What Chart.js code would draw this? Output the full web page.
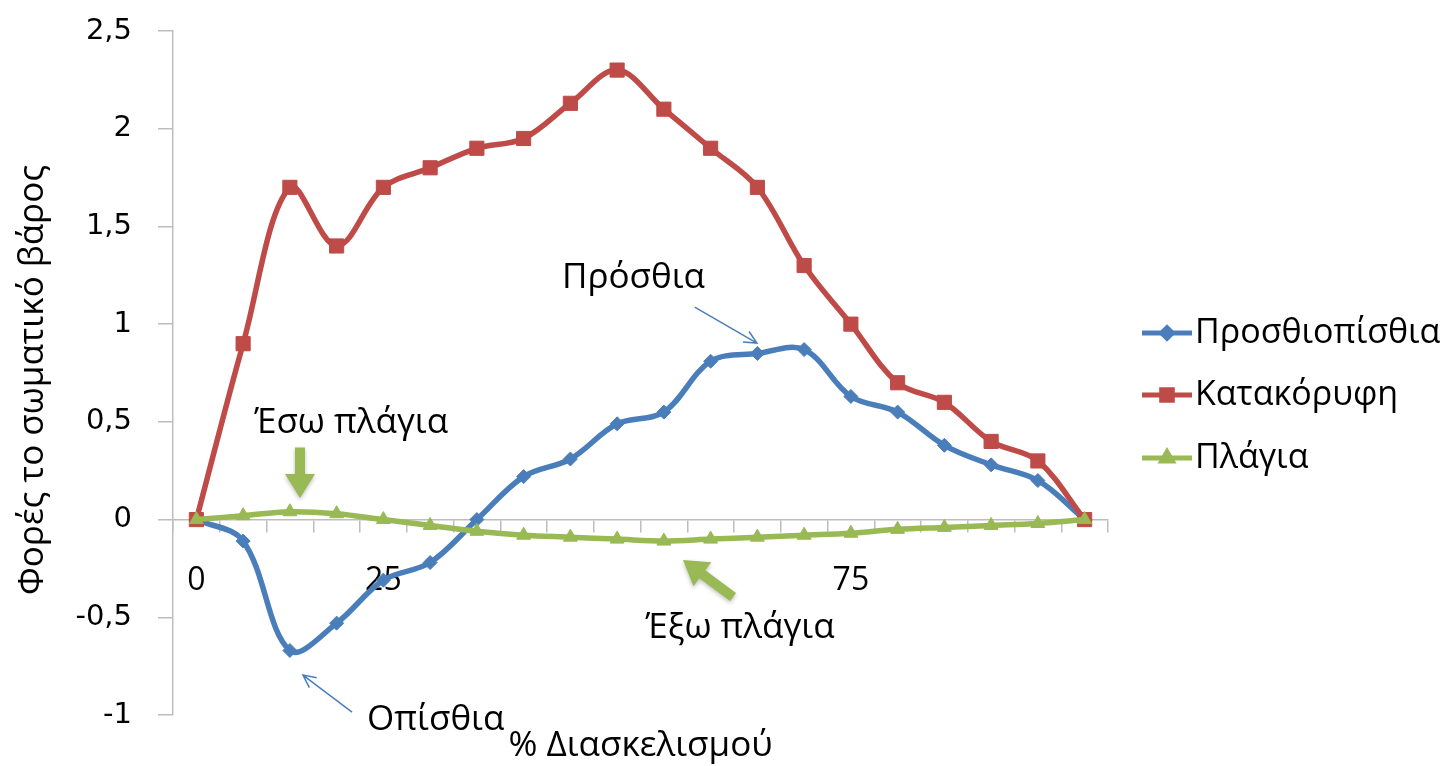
<!DOCTYPE html>
<html>
<head>
<meta charset="utf-8">
<script src="https://cdn.jsdelivr.net/npm/chart.js@4.4.0/dist/chart.umd.min.js"></script>
<style>
  html, body { margin: 0; padding: 0; background: #fff; }
</style>
</head>
<body>
<canvas id="chart" width="1454" height="766"></canvas>
<script>
// % of stride (only a few ticks are labelled in the original)
const strideLabels = ['0', '', '', '', '25', '', '', '', '', '', '', '', '', '', '75', '', '', '', '', ''];

// times body weight
const anteroposterior = [0, -0.11, -0.67, -0.53, -0.31, -0.22, 0, 0.22, 0.31, 0.49, 0.55, 0.81, 0.85, 0.87, 0.63, 0.55, 0.38, 0.28, 0.2, 0];
const vertical = [0, 0.9, 1.7, 1.4, 1.7, 1.8, 1.9, 1.95, 2.13, 2.3, 2.1, 1.9, 1.7, 1.3, 1.0, 0.7, 0.6, 0.4, 0.3, 0];
const mediolateral = [0, 0.02, 0.04, 0.03, 0, -0.03, -0.06, -0.08, -0.09, -0.1, -0.11, -0.1, -0.09, -0.08, -0.07, -0.05, -0.04, -0.03, -0.02, 0];

const seriesNames = ['Προσθιοπίσθια', 'Κατακόρυφη', 'Πλάγια'];

const BLUE = '#4a7ebb';
const RED = '#be4b48';
const GREEN = '#98b954';
const AXIS = '#bdbdbd';
const FONT = "'Open Sans', sans-serif";

// annotations, placed in data space (category index, value)
const notes = [
  { text: 'Πρόσθια', x: 7.82, y: 1.235, align: 'left' },
  { text: 'Έσω πλάγια', x: 3.31, y: 0.494, align: 'center' },
  { text: 'Έξω πλάγια', x: 11.63, y: -0.555, align: 'center' },
  { text: 'Οπίσθια', x: 5.12, y: -1.025, align: 'center' }
];
const thinArrows = [
  { from: [10.66, 1.087], to: [11.99, 0.903] },
  { from: [3.33, -0.985], to: [2.28, -0.796] }
];
const thickArrows = [
  { from: [2.216, 0.369], to: [2.216, 0.111] },
  { from: [11.48, -0.396], to: [10.41, -0.207] }
];

function drawThin(ctx, x1, y1, x2, y2) {
  const a = Math.atan2(y2 - y1, x2 - x1);
  ctx.save();
  ctx.strokeStyle = BLUE;
  ctx.lineWidth = 1.5;
  ctx.beginPath();
  ctx.moveTo(x1, y1);
  ctx.lineTo(x2, y2);
  ctx.moveTo(x2 - 14 * Math.cos(a - 0.45), y2 - 14 * Math.sin(a - 0.45));
  ctx.lineTo(x2, y2);
  ctx.lineTo(x2 - 14 * Math.cos(a + 0.45), y2 - 14 * Math.sin(a + 0.45));
  ctx.stroke();
  ctx.restore();
}

function drawThick(ctx, x1, y1, x2, y2) {
  const a = Math.atan2(y2 - y1, x2 - x1);
  const len = Math.hypot(x2 - x1, y2 - y1);
  ctx.save();
  ctx.translate(x1, y1);
  ctx.rotate(a);
  ctx.fillStyle = GREEN;
  ctx.shadowColor = 'rgba(0,0,0,0.25)';
  ctx.shadowBlur = 4;
  ctx.shadowOffsetY = 2;
  const head = 24, shaft = 5, wing = 15;
  ctx.beginPath();
  ctx.moveTo(0, -shaft);
  ctx.lineTo(len - head, -shaft);
  ctx.lineTo(len - head, -wing);
  ctx.lineTo(len, 0);
  ctx.lineTo(len - head, wing);
  ctx.lineTo(len - head, shaft);
  ctx.lineTo(0, shaft);
  ctx.closePath();
  ctx.fill();
  ctx.restore();
}

const overlay = {
  id: 'overlay',
  afterDraw(chart) {
    const ctx = chart.ctx;
    const xs = chart.scales.x, ys = chart.scales.y;
    const area = chart.chartArea;
    const px = v => xs.getPixelForValue(v);
    const py = v => ys.getPixelForValue(v);

    ctx.save();
    ctx.fillStyle = '#000';
    ctx.font = '35px ' + FONT;
    ctx.textBaseline = 'middle';

    notes.forEach(n => {
      ctx.textAlign = n.align;
      ctx.fillText(n.text, px(n.x), py(n.y));
    });
    thinArrows.forEach(a => drawThin(ctx, px(a.from[0]), py(a.from[1]), px(a.to[0]), py(a.to[1])));
    thickArrows.forEach(a => drawThick(ctx, px(a.from[0]), py(a.from[1]), px(a.to[0]), py(a.to[1])));

    // x axis title
    ctx.textAlign = 'center';
    ctx.fillText('% Διασκελισμού', (area.left + area.right) / 2, 746);

    // y axis title
    ctx.save();
    ctx.font = '35px ' + FONT;
    ctx.translate(33, 380);
    ctx.rotate(-Math.PI / 2);
    ctx.fillText('Φορές το σωματικό βάρος', 0, 0);
    ctx.restore();

    // legend
    ctx.font = '34px ' + FONT;
    const lx = area.right + 34;
    const rows = [333, 395, 458];
    chart.data.datasets.forEach((ds, i) => {
      const y = rows[i];
      ctx.strokeStyle = ds.borderColor;
      ctx.lineWidth = 5;
      ctx.beginPath();
      ctx.moveTo(lx, y);
      ctx.lineTo(lx + 50, y);
      ctx.stroke();
      Chart.helpers.drawPoint(ctx, {
        pointStyle: ds.pointStyle, radius: ds.pointRadius * 0.75, borderWidth: 1
      }, lx + 25, y);
      ctx.fillStyle = ds.borderColor;
      ctx.fill();
      ctx.fillStyle = '#000';
      ctx.textAlign = 'left';
      ctx.fillText(ds.label, lx + 53, y);
    });
    ctx.restore();
  }
};

function series(label, data, color, style, radius, order) {
  return {
    label: label,
    data: data,
    borderColor: color,
    backgroundColor: color,
    pointBackgroundColor: color,
    pointBorderColor: color,
    pointStyle: style,
    pointRadius: radius,
    pointBorderWidth: 1,
    borderWidth: 5.5,
    tension: 0.35,
    order: order
  };
}

new Chart(document.getElementById('chart'), {
  type: 'line',
  data: {
    labels: strideLabels,
    datasets: [
      series(seriesNames[0], anteroposterior, BLUE, 'rectRot', 7, 2),
      series(seriesNames[1], vertical, RED, 'rect', 10, 1),
      series(seriesNames[2], mediolateral, GREEN, 'triangle', 8, 0)
    ]
  },
  options: {
    responsive: false,
    animation: false,
    layout: { padding: { left: 0, right: 346, top: 31, bottom: 51 } },
    plugins: { legend: { display: false }, tooltip: { enabled: false } },
    scales: {
      x: {
        position: { y: 0 },
        offset: true,
        grid: { offset: true, drawOnChartArea: false, drawTicks: true, tickLength: 12, color: AXIS, lineWidth: 1.5 },
        border: { color: AXIS, width: 1.5 },
        ticks: { autoSkip: false, maxRotation: 0, padding: 30, color: '#000', font: { family: FONT, size: 32 } }
      },
      y: {
        min: -1,
        max: 2.5,
        afterFit: scale => {
          scale.width = 173;
          // the large label padding should not push the plot area down
          scale.paddingTop = 10;
          scale.paddingBottom = 10;
        },
        grid: { drawOnChartArea: false, drawTicks: true, tickLength: 15, color: AXIS, lineWidth: 1.5 },
        border: { color: AXIS, width: 1.5 },
        ticks: {
          stepSize: 0.5,
          padding: 26,
          color: '#000',
          font: { family: "'DejaVu Sans', sans-serif", size: 29 },
          callback: v => String(v).replace('.', ',')
        }
      }
    }
  },
  plugins: [overlay]
});
</script>
</body>
</html>
